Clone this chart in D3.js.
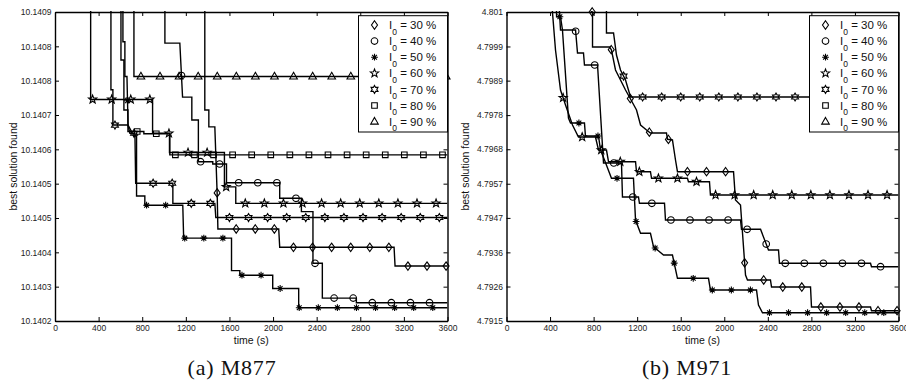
<!DOCTYPE html>
<html>
<head>
<meta charset="utf-8">
<script src="https://cdn.jsdelivr.net/npm/d3@7"></script>
<style>
body { margin: 0; background: #fff; }
svg { display: block; font-family: "Liberation Sans", Arial, Helvetica, sans-serif; }
</style>
</head>
<body>
<svg id="mainSVG" width="906" height="383"></svg>
<script>
const levels = ["30", "40", "50", "60", "70", "80", "90"];
const markerKinds = ["diamond", "circle", "asterisk", "pentagram", "hexagram", "square", "triangle"];
// time of first marker sample for each series, markers every markerStep seconds
const markerPhase = [87, 110, 140, 170, 25, 54, 88];
const markerStep = 175;

const xTicks = [0, 400, 800, 1200, 1600, 2000, 2400, 2800, 3200, 3600];
const yTicksM877 = [10.14023, 10.140305, 10.14038, 10.140455, 10.14053, 10.140605, 10.14068, 10.140755, 10.14083, 10.140905];
const yTicksM971 = [4.7915, 4.79256, 4.79361, 4.79467, 4.79572, 4.79678, 4.79783, 4.79889, 4.79994, 4.801];

// M877, [time (s), best solution]
const m877I30 = [[0,10.1411],[1374,10.1411],[1374,10.140691],[1411,10.140691],[1411,10.140654],[1466,10.140654],[1488,10.140503],[1494,10.140431],[2052,10.140431],[2061,10.140391],[3110,10.140391],[3119,10.14035],[3600,10.14035]];
const m877I40 = [[0,10.1411],[1008,10.1411],[1008,10.140837],[1145,10.140837],[1170,10.140719],[1255,10.140719],[1255,10.140669],[1315,10.140669],[1315,10.140578],[1447,10.140578],[1447,10.140573],[1573,10.140573],[1573,10.140532],[2061,10.140532],[2061,10.140498],[2260,10.140498],[2260,10.140469],[2366,10.140469],[2366,10.140356],[2452,10.140356],[2452,10.14028],[2764,10.14028],[2764,10.14027],[3600,10.14027]];
const m877I50 = [[0,10.1411],[623,10.1411],[623,10.14084],[641,10.14084],[641,10.140764],[660,10.140764],[670,10.140658],[724,10.140634],[748,10.140634],[748,10.140503],[824,10.140503],[824,10.140483],[1172,10.140483],[1180,10.140411],[1619,10.140411],[1619,10.14034],[1695,10.14034],[1695,10.14033],[1997,10.14033],[1997,10.140301],[2235,10.140301],[2235,10.140259],[3600,10.140259]];
const m877I60 = [[0,10.1411],[327,10.1411],[327,10.140714],[895,10.140714],[895,10.14064],[1050,10.14064],[1050,10.140598],[1554,10.140598],[1554,10.140523],[1658,10.140523],[1658,10.140487],[3600,10.140487]];
const m877I70 = [[0,10.1411],[513,10.1411],[513,10.140735],[531,10.140735],[531,10.140658],[669,10.140658],[687,10.14064],[733,10.14064],[740,10.140531],[1081,10.140531],[1081,10.140487],[1466,10.140487],[1475,10.140456],[3600,10.140456]];
const m877I80 = [[0,10.1411],[605,10.1411],[605,10.1408],[632,10.1408],[632,10.140691],[669,10.140691],[669,10.140644],[815,10.140644],[815,10.140639],[1053,10.140639],[1053,10.140593],[3600,10.140593]];
const m877I90 = [[0,10.1411],[724,10.1411],[724,10.140764],[3600,10.140764]];

// M971
const m971I30 = [[0,4.8025],[780,4.8025],[780,4.801],[790,4.801],[790,4.799924],[946,4.799924],[964,4.799832],[1001,4.799217],[1093,4.798602],[1139,4.798325],[1194,4.797987],[1231,4.797526],[1286,4.797372],[1322,4.79728],[1469,4.79728],[1479,4.797086],[1524,4.797065],[1552,4.79645],[1570,4.79609],[2085,4.79609],[2103,4.79522],[2149,4.795066],[2195,4.792914],[2213,4.792761],[2424,4.792761],[2434,4.792545],[2792,4.792545],[2801,4.79193],[3343,4.79193],[3352,4.791817],[3600,4.791817]];
const m971I40 = [[0,4.8025],[459,4.8025],[496,4.800447],[634,4.800447],[652,4.799739],[707,4.799739],[716,4.799371],[836,4.799371],[891,4.796358],[1056,4.796358],[1065,4.795312],[1212,4.795312],[1221,4.795119],[1451,4.795119],[1460,4.794605],[2149,4.794605],[2158,4.794319],[2333,4.794319],[2406,4.793683],[2498,4.793683],[2507,4.793274],[3343,4.793274],[3352,4.793169],[3600,4.793169]];
const m971I50 = [[0,4.8025],[450,4.8025],[460,4.800855],[496,4.800855],[514,4.800447],[569,4.797741],[588,4.797587],[716,4.797587],[725,4.797188],[845,4.797188],[863,4.796757],[900,4.79645],[964,4.795887],[1166,4.795887],[1185,4.794605],[1231,4.794196],[1322,4.794196],[1350,4.793784],[1442,4.793529],[1524,4.793529],[1570,4.792813],[1855,4.792813],[1873,4.792453],[2296,4.792453],[2314,4.791992],[2351,4.791755],[3600,4.791755]];
const m971I60 = [[0,4.8025],[404,4.8025],[422,4.801],[450,4.799832],[496,4.798602],[542,4.798141],[606,4.797526],[661,4.797157],[817,4.797157],[845,4.796757],[918,4.796757],[937,4.796398],[1185,4.796398],[1194,4.79609],[1322,4.79609],[1332,4.795887],[1662,4.795887],[1671,4.795783],[1864,4.795783],[1873,4.795374],[3600,4.795374]];
const m971I70 = [[0,4.8025],[918,4.8025],[918,4.800354],[983,4.800354],[1010,4.799678],[1047,4.799217],[1093,4.798909],[1139,4.798387],[3600,4.798387]];
const m971I80 = [];
const m971I90 = [];

const panels = [
    {id: "a", caption: "(a) M877", yTicks: yTicksM877, left: 55, right: 447.5, captionX: 232,
        series: [m877I30, m877I40, m877I50, m877I60, m877I70, m877I80, m877I90]},
    {id: "b", caption: "(b) M971", yTicks: yTicksM971, left: 506.5, right: 898.5, captionX: 687,
        series: [m971I30, m971I40, m971I50, m971I60, m971I70, m971I80, m971I90]}
];

const plotTop = 12, plotBottom = 321;
const svg = d3.select("#mainSVG");

function starPath(n, rOut, rIn) {
    const pts = [];
    for (let i = 0; i < 2 * n; i++) {
        const a = -Math.PI / 2 + i * Math.PI / n, r = i % 2 ? rIn : rOut;
        pts.push([(r * Math.cos(a)).toFixed(2), (r * Math.sin(a)).toFixed(2)]);
    }
    return "M" + pts.join("L") + "Z";
}

const markerPath = {
    diamond: "M0,-4.2L3,0L0,4.2L-3,0Z",
    circle: "M3.3,0A3.3,3.3 0 1,1 -3.3,0A3.3,3.3 0 1,1 3.3,0Z",
    asterisk: "M0,-3.4V3.4M-3.4,0H3.4M-2.4,-2.4L2.4,2.4M-2.4,2.4L2.4,-2.4",
    pentagram: starPath(5, 4.3, 1.8),
    hexagram: starPath(6, 4, 2.3),
    square: "M-2.8,-2.8H2.8V2.8H-2.8Z",
    triangle: "M0,-4.2L3.8,2.5H-3.8Z"
};

function valueAt(data, t) {
    const i = d3.bisector(d => d[0]).right(data, t);
    if (i <= 0) return data[0][1];
    if (i >= data.length) return data[data.length - 1][1];
    const a = data[i - 1], b = data[i];
    if (b[0] === a[0]) return b[1];
    return a[1] + (b[1] - a[1]) * (t - a[0]) / (b[0] - a[0]);
}

function drawMarker(g, kind, px, py) {
    g.append("path")
        .attr("d", markerPath[kind])
        .attr("transform", `translate(${px},${py})`)
        .attr("fill", "none")
        .attr("stroke", "#000")
        .attr("stroke-width", 1.1);
}

panels.forEach(p => {
    const x = d3.scaleLinear().domain([0, 3600]).range([p.left, p.right]);
    const y = d3.scaleLinear().domain([p.yTicks[0], p.yTicks[p.yTicks.length - 1]]).range([plotBottom, plotTop]);
    const g = svg.append("g").attr("id", "panel-" + p.id);

    g.append("clipPath").attr("id", "clip-" + p.id)
        .append("rect")
        .attr("x", p.left).attr("y", plotTop - 1)
        .attr("width", p.right - p.left).attr("height", plotBottom - plotTop + 2);

    const line = d3.line().x(d => x(d[0])).y(d => y(d[1]));
    const lines = g.append("g").attr("clip-path", `url(#clip-${p.id})`);
    p.series.forEach(s => {
        if (!s.length) return;
        lines.append("path")
            .attr("d", line(s))
            .attr("fill", "none")
            .attr("stroke", "#000")
            .attr("stroke-width", 1.4);
    });

    const yMax = y.domain()[1], yMin = y.domain()[0], tol = (yMax - yMin) * 0.003;
    const marks = g.append("g");
    p.series.forEach((s, k) => {
        if (!s.length) return;
        for (let t = markerPhase[k]; t <= 3600; t += markerStep) {
            const v = valueAt(s, t);
            if (v > yMax + tol || v < yMin - tol) continue;
            drawMarker(marks, markerKinds[k], x(t), y(v));
        }
    });

    // axes, ticks pointing inward on all four sides
    const fmt = d3.format(".4~f");
    g.append("g").attr("transform", `translate(0,${plotBottom})`)
        .call(d3.axisBottom(x).tickValues(xTicks).tickSizeInner(-4).tickSizeOuter(0).tickPadding(4).tickFormat(d3.format("d")));
    g.append("g").attr("transform", `translate(0,${plotTop})`)
        .call(d3.axisTop(x).tickValues(xTicks).tickSizeInner(-4).tickSizeOuter(0).tickFormat(""));
    g.append("g").attr("transform", `translate(${p.left},0)`)
        .call(d3.axisLeft(y).tickValues(p.yTicks).tickSizeInner(-4).tickSizeOuter(0).tickPadding(3.5).tickFormat(fmt));
    g.append("g").attr("transform", `translate(${p.right},0)`)
        .call(d3.axisRight(y).tickValues(p.yTicks).tickSizeInner(-4).tickSizeOuter(0).tickFormat(""));

    g.selectAll(".domain").attr("stroke", "#000").attr("stroke-width", 1.4);
    g.selectAll(".tick line").attr("stroke", "#000").attr("stroke-width", 1);
    g.selectAll(".tick text")
        .attr("fill", "#222")
        .style("font-size", "8.5px")
        .style("font-family", "'Liberation Sans', Arial, sans-serif");

    // legend
    const lg = g.append("g");
    lg.append("rect")
        .attr("x", p.right - 89).attr("y", 15.7)
        .attr("width", 89).attr("height", 116.3)
        .attr("fill", "#fff").attr("stroke", "#000").attr("stroke-width", 1);
    levels.forEach((lv, k) => {
        const ry = 25 + k * 16.1;
        drawMarker(lg, markerKinds[k], p.right - 73, ry);
        const tx = lg.append("text")
            .attr("x", p.right - 58.5).attr("y", ry).attr("dy", "0.36em")
            .style("font-size", "11.5px").attr("fill", "#111");
        tx.append("tspan").text("I");
        tx.append("tspan").attr("dy", 5.5).style("font-size", "8.5px").text("0");
        tx.append("tspan").attr("dy", -5.5).text(" = " + lv + " %");
    });

    g.append("text")
        .attr("transform", `translate(${p.left - 38},${(plotTop + plotBottom) / 2}) rotate(-90)`)
        .attr("text-anchor", "middle")
        .style("font-size", "10.5px").attr("fill", "#111")
        .text("best solution found");

    g.append("text")
        .attr("x", (p.left + p.right) / 2).attr("y", 344)
        .attr("text-anchor", "middle")
        .style("font-size", "10.5px").attr("fill", "#111")
        .text("time (s)");

    g.append("text")
        .attr("x", p.captionX).attr("y", 375)
        .attr("text-anchor", "middle")
        .style("font-family", "'Liberation Serif', 'Times New Roman', serif")
        .style("font-size", "22px").style("letter-spacing", "0.8px").attr("fill", "#111")
        .text(p.caption);
});
</script>
</body>
</html>
